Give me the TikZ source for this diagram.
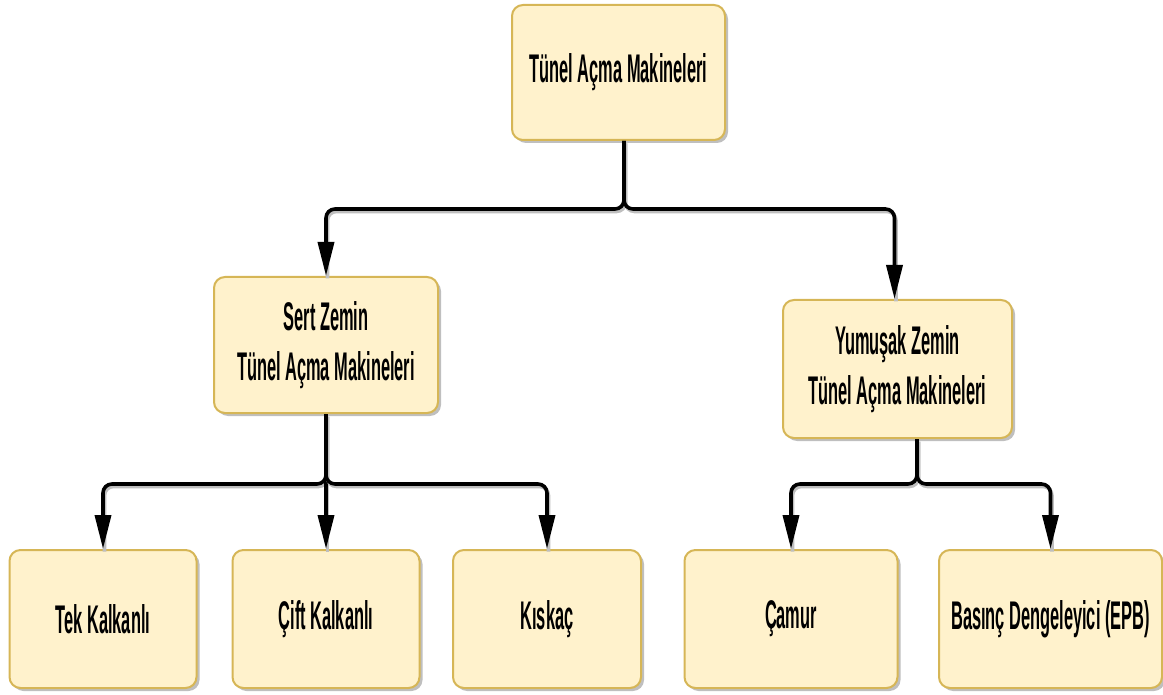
\documentclass[tikz,border=0pt]{standalone}
\usepackage{fontspec}
\setmainfont{Liberation Sans}[FakeStretch=0.41]
\usetikzlibrary{arrows.meta,shadows}
\definecolor{boxfill}{HTML}{FFF2CC}
\definecolor{boxline}{HTML}{D6B656}
\begin{document}
\begin{tikzpicture}[x=1pt,y=-1pt,
  box/.style={draw=boxline, fill=boxfill, line width=2pt, rounded corners=11pt,
    drop shadow={shadow xshift=3pt, shadow yshift=-3pt, opacity=0.25, fill=black},
    align=center, inner sep=0pt, font=\fontsize{40}{50}\selectfont\bfseries},
  edge/.style={line width=3.6pt, rounded corners=9pt,
    -{Triangle[length=34pt,width=16pt]},
    preaction={draw=black!25, line width=3.6pt, -, transform canvas={shift={(1.5pt,-2.5pt)}}}}
]
\useasboundingbox (0,0) rectangle (1163,695);
\node[box, minimum width=213pt, minimum height=135pt] (root) at (618.5,72.5) {Tünel Açma Makineleri};
\node[box, minimum width=224pt, minimum height=136pt] (sert) at (326,345) {Sert Zemin\\Tünel Açma Makineleri};
\node[box, minimum width=229pt, minimum height=138pt] (yum) at (897.5,369) {Yumuşak Zemin\\Tünel Açma Makineleri};
\node[box, minimum width=187pt, minimum height=138pt] (tek) at (103,619) {Tek Kalkanlı};
\node[box, minimum width=187pt, minimum height=138pt] (cift) at (326,619) {Çift Kalkanlı};
\node[box, minimum width=188pt, minimum height=138pt] (kiskac) at (547,619) {Kıskaç};
\node[box, minimum width=213pt, minimum height=138pt] (camur) at (791,619) {Çamur};
\node[box, minimum width=223pt, minimum height=138pt] (epb) at (1050.5,619) {Basınç Dengeleyici (EPB)};

\draw[edge] ([xshift=5.5pt]root.south) -- ++(0,68) -| (sert.north);
\draw[edge] ([xshift=5.5pt]root.south) -- ++(0,68) -| ([xshift=-3pt]yum.north);
\draw[edge] (sert.south) -- ++(0,70) -| (tek.north);
\draw[edge] (sert.south) -- (cift.north);
\draw[edge] (sert.south) -- ++(0,70) -| (kiskac.north);
\draw[edge] ([xshift=19.5pt]yum.south) -- ++(0,45) -| (camur.north);
\draw[edge] ([xshift=19.5pt]yum.south) -- ++(0,45) -| (epb.north);
\end{tikzpicture}
\end{document}
